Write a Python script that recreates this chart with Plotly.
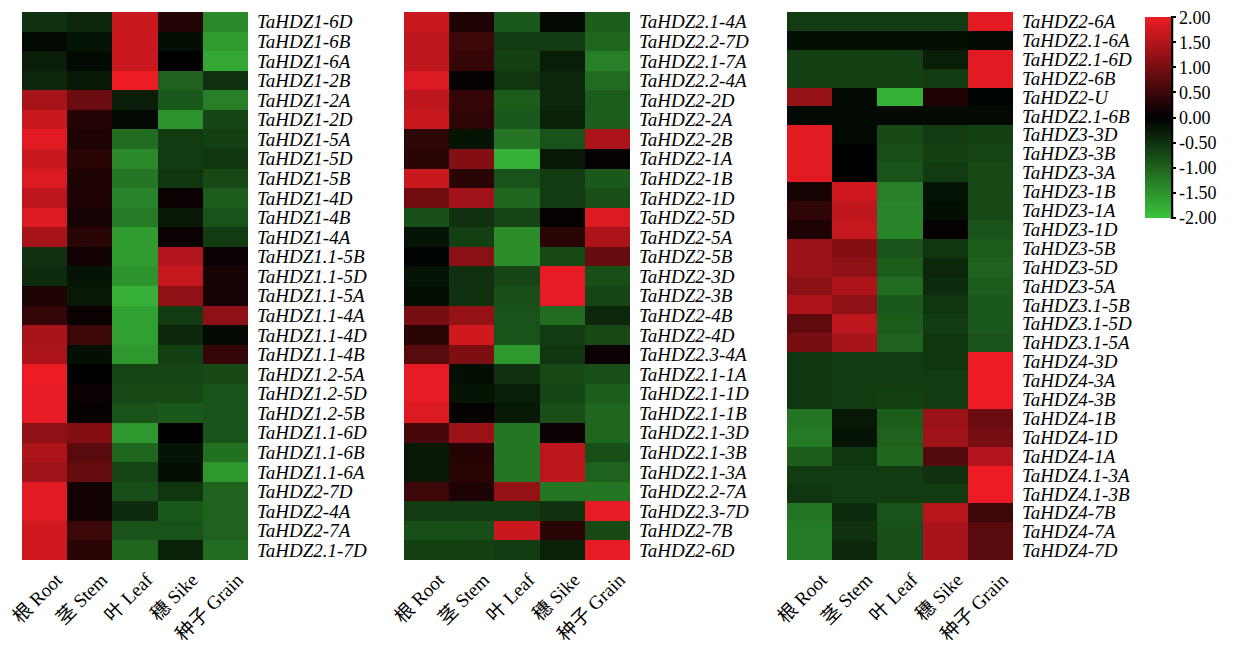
import plotly.graph_objects as go

# tissues (columns of every panel)
tissues = ["根 Root", "茎 Stem", "叶 Leaf", "穗 Sike", "种子 Grain"]

# panel 1
genes_1 = ["TaHDZ1-6D", "TaHDZ1-6B", "TaHDZ1-6A", "TaHDZ1-2B", "TaHDZ1-2A", "TaHDZ1-2D",
           "TaHDZ1-5A", "TaHDZ1-5D", "TaHDZ1-5B", "TaHDZ1-4D", "TaHDZ1-4B", "TaHDZ1-4A",
           "TaHDZ1.1-5B", "TaHDZ1.1-5D", "TaHDZ1.1-5A", "TaHDZ1.1-4A", "TaHDZ1.1-4D",
           "TaHDZ1.1-4B", "TaHDZ1.2-5A", "TaHDZ1.2-5D", "TaHDZ1.2-5B", "TaHDZ1.1-6D",
           "TaHDZ1.1-6B", "TaHDZ1.1-6A", "TaHDZ2-7D", "TaHDZ2-4A", "TaHDZ2-7A", "TaHDZ2.1-7D"]
expr_1 = [
    [-0.5, -0.4, 1.7, 0.3, -1.4],
    [-0.1, -0.2, 1.7, -0.15, -1.6],
    [-0.3, -0.1, 1.7, 0.0, -1.7],
    [-0.4, -0.25, 2.0, -1.0, -0.5],
    [1.4, 0.9, -0.3, -0.9, -1.3],
    [1.7, 0.3, -0.1, -1.5, -0.7],
    [1.9, 0.25, -1.1, -0.6, -0.65],
    [1.7, 0.35, -1.4, -0.6, -0.55],
    [1.85, 0.25, -1.2, -0.55, -0.75],
    [1.6, 0.25, -1.35, 0.1, -0.95],
    [1.85, 0.2, -1.25, -0.25, -0.85],
    [1.4, 0.35, -1.6, 0.1, -0.6],
    [-0.5, 0.15, -1.6, 1.5, 0.1],
    [-0.45, -0.2, -1.5, 1.65, 0.2],
    [0.25, -0.25, -1.8, 1.2, 0.2],
    [0.45, 0.1, -1.65, -0.6, 1.2],
    [1.4, 0.5, -1.65, -0.4, -0.1],
    [1.45, -0.15, -1.55, -0.65, 0.45],
    [2.0, 0.0, -0.7, -0.7, -0.75],
    [1.95, 0.1, -0.75, -0.75, -0.85],
    [1.95, 0.05, -0.85, -0.9, -0.85],
    [1.2, 1.1, -1.55, 0.0, -0.85],
    [1.45, 0.75, -1.05, -0.2, -1.15],
    [1.35, 0.85, -0.7, -0.15, -1.55],
    [1.9, 0.15, -0.8, -0.55, -1.0],
    [1.9, 0.15, -0.45, -0.9, -1.0],
    [1.75, 0.5, -0.85, -0.85, -1.0],
    [1.75, 0.35, -1.05, -0.35, -1.1],
]

# panel 2
genes_2 = ["TaHDZ2.1-4A", "TaHDZ2.2-7D", "TaHDZ2.1-7A", "TaHDZ2.2-4A", "TaHDZ2-2D", "TaHDZ2-2A",
           "TaHDZ2-2B", "TaHDZ2-1A", "TaHDZ2-1B", "TaHDZ2-1D", "TaHDZ2-5D", "TaHDZ2-5A",
           "TaHDZ2-5B", "TaHDZ2-3D", "TaHDZ2-3B", "TaHDZ2-4B", "TaHDZ2-4D", "TaHDZ2.3-4A",
           "TaHDZ2.1-1A", "TaHDZ2.1-1D", "TaHDZ2.1-1B", "TaHDZ2.1-3D", "TaHDZ2.1-3B",
           "TaHDZ2.1-3A", "TaHDZ2.2-7A", "TaHDZ2.3-7D", "TaHDZ2-7B", "TaHDZ2-6D"]
expr_2 = [
    [1.7, 0.25, -0.9, -0.1, -0.95],
    [1.6, 0.5, -0.6, -0.6, -1.05],
    [1.6, 0.45, -0.65, -0.3, -1.3],
    [1.85, 0.05, -0.55, -0.4, -1.1],
    [1.6, 0.45, -0.95, -0.4, -0.95],
    [1.7, 0.4, -0.9, -0.35, -0.95],
    [0.4, -0.2, -1.2, -0.85, 1.45],
    [0.35, 1.1, -1.8, -0.25, 0.05],
    [1.7, 0.35, -0.85, -0.6, -0.9],
    [0.95, 1.35, -1.05, -0.6, -0.8],
    [-0.8, -0.5, -0.7, 0.05, 1.85],
    [-0.2, -0.65, -1.45, 0.35, 1.45],
    [-0.05, 1.15, -1.45, -0.75, 0.85],
    [-0.2, -0.5, -0.7, 1.95, -0.8],
    [-0.15, -0.5, -0.8, 1.95, -0.7],
    [1.0, 1.25, -0.85, -1.1, -0.4],
    [0.35, 1.75, -0.85, -0.6, -0.75],
    [0.75, 1.05, -1.55, -0.55, 0.1],
    [1.95, -0.15, -0.5, -0.75, -0.8],
    [1.95, -0.2, -0.3, -0.7, -0.95],
    [1.85, 0.05, -0.25, -0.8, -1.05],
    [0.6, 1.3, -1.2, 0.1, -1.05],
    [-0.25, 0.3, -1.2, 1.6, -0.8],
    [-0.25, 0.35, -1.2, 1.6, -1.0],
    [0.5, 0.25, 1.25, -1.2, -1.2],
    [-0.6, -0.6, -0.6, -0.5, 1.95],
    [-0.8, -0.8, 1.7, 0.35, -0.75],
    [-0.65, -0.65, -0.6, -0.35, 1.95],
]

# panel 3
genes_3 = ["TaHDZ2-6A", "TaHDZ2.1-6A", "TaHDZ2.1-6D", "TaHDZ2-6B", "TaHDZ2-U", "TaHDZ2.1-6B",
           "TaHDZ3-3D", "TaHDZ3-3B", "TaHDZ3-3A", "TaHDZ3-1B", "TaHDZ3-1A", "TaHDZ3-1D",
           "TaHDZ3-5B", "TaHDZ3-5D", "TaHDZ3-5A", "TaHDZ3.1-5B", "TaHDZ3.1-5D", "TaHDZ3.1-5A",
           "TaHDZ4-3D", "TaHDZ4-3A", "TaHDZ4-3B", "TaHDZ4-1B", "TaHDZ4-1D", "TaHDZ4-1A",
           "TaHDZ4.1-3A", "TaHDZ4.1-3B", "TaHDZ4-7B", "TaHDZ4-7A", "TaHDZ4-7D"]
expr_3 = [
    [-0.6, -0.6, -0.6, -0.6, 1.9],
    [-0.15, -0.15, -0.15, -0.15, -0.1],
    [-0.65, -0.65, -0.65, -0.3, 1.9],
    [-0.65, -0.65, -0.65, -0.6, 1.9],
    [1.25, -0.1, -1.8, 0.25, -0.05],
    [-0.1, -0.1, -0.1, -0.1, -0.1],
    [1.9, -0.1, -0.75, -0.6, -0.65],
    [1.9, 0.0, -0.8, -0.65, -0.7],
    [1.9, 0.0, -0.85, -0.6, -0.75],
    [0.2, 1.75, -1.3, -0.2, -0.75],
    [0.4, 1.6, -1.35, -0.15, -0.75],
    [0.25, 1.65, -1.35, 0.05, -0.85],
    [1.3, 1.1, -0.85, -0.55, -0.95],
    [1.3, 1.2, -0.95, -0.4, -1.0],
    [1.15, 1.45, -1.1, -0.45, -0.95],
    [1.45, 1.2, -0.9, -0.55, -0.9],
    [0.8, 1.6, -0.95, -0.6, -0.9],
    [1.0, 1.4, -1.0, -0.55, -0.85],
    [-0.55, -0.6, -0.6, -0.55, 2.0],
    [-0.55, -0.6, -0.6, -0.6, 2.0],
    [-0.55, -0.6, -0.65, -0.6, 2.0],
    [-1.2, -0.25, -0.95, 1.3, 0.9],
    [-1.25, -0.2, -1.0, 1.35, 1.0],
    [-0.95, -0.55, -1.05, 0.7, 1.5],
    [-0.6, -0.6, -0.6, -0.5, 2.0],
    [-0.55, -0.6, -0.6, -0.6, 2.0],
    [-1.2, -0.45, -0.85, 1.55, 0.5],
    [-1.25, -0.5, -0.8, 1.4, 0.75],
    [-1.25, -0.4, -0.8, 1.4, 0.75],
]

cbar_ticks = [2.0, 1.5, 1.0, 0.5, 0.0, -0.5, -1.0, -1.5, -2.0]

W, H = 1237, 650
OFF = 8  # page body margin pushes the figure 8px right/down
serif = "Liberation Serif, Times New Roman, Noto Sans CJK SC, serif"


def px(x):
    return (x - OFF) / W


def py(y):
    return 1 - (y - OFF) / H


panels = [(genes_1, expr_1, 22, 248), (genes_2, expr_2, 404, 630), (genes_3, expr_3, 787, 1013)]
cb_top, cb_bot = 17, 218

fig = go.Figure()
layout = dict(
    width=W, height=H,
    margin=dict(l=0, r=0, t=0, b=0),
    paper_bgcolor="white", plot_bgcolor="white",
    font=dict(family=serif, color="black"),
    coloraxis=dict(
        cmin=-2.005, cmax=2.005,
        colorscale=[[0, "#3cc43c"], [0.5, "#000000"], [1, "#ee1c24"]],
        colorbar=dict(
            x=px(1145), xanchor="left", y=py(cb_top), yanchor="top",
            len=(cb_bot - cb_top) / H, lenmode="fraction", thickness=26, thicknessmode="pixels",
            outlinewidth=0, ticks="outside", ticklen=5, tickwidth=2, tickcolor="black",
            tickvals=cbar_ticks, ticktext=["%.2f" % v for v in cbar_ticks],
            ticklabeloverflow="allow",
            tickfont=dict(family=serif, size=18), xpad=0, ypad=0,
        ),
    ),
    showlegend=False,
)

for i, (genes, expr, x0, x1) in enumerate(panels, start=1):
    xa = "x" if i == 1 else "x%d" % i
    ya = "y" if i == 1 else "y%d" % i
    fig.add_trace(go.Heatmap(z=expr, x=tissues, y=genes, coloraxis="coloraxis",
                             xaxis=xa, yaxis=ya, hoverongaps=False))
    layout["xaxis" if i == 1 else "xaxis%d" % i] = dict(
        domain=[px(x0), px(x1)], anchor=ya, tickangle=-45, showgrid=False, zeroline=False,
        tickfont=dict(family=serif, size=19), ticks="", showline=False, automargin=False,
        tickmode="array", tickvals=tissues, ticklabelshift=12, ticklabelstandoff=4,
    )
    layout["yaxis" if i == 1 else "yaxis%d" % i] = dict(
        domain=[py(560), py(12)], anchor=xa, side="right", autorange="reversed",
        showgrid=False, zeroline=False, ticks="", ticklabelstandoff=8, automargin=False,
        tickmode="array", tickvals=genes,
        tickfont=dict(family=serif, size=19, style="italic"),
    )

fig.update_layout(**layout)

# black axis line on the right edge of the colour bar
fig.add_shape(type="line", xref="paper", yref="paper", layer="above",
              x0=px(1172), x1=px(1172), y0=py(cb_top - 1), y1=py(cb_bot + 1),
              line=dict(color="black", width=2.5))

fig.write_html("out.html")
